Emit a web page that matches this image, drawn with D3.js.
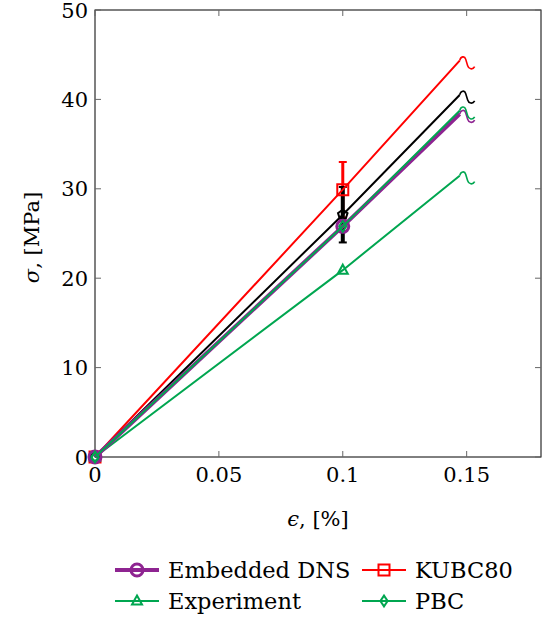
<!DOCTYPE html>
<html><head><meta charset="utf-8">
<script src="https://cdn.jsdelivr.net/npm/d3@7"></script>
<style>body{margin:0;background:#fff}svg{display:block}</style>
</head><body><svg id="c" width="544" height="619" font-family="'DejaVu Serif', 'Liberation Serif', serif"></svg>
<script>
const strain = [0, 0.1, 0.15];
const embeddedDNS = [0, 25.8, 39.1];
const kubc80 = [0, 29.9, 45.2];
const experiment = [0, 20.9, 32.1];
const pbc = [0, 25.8, 39.5];
const reference = [0, 27.1, 41.3];
const errKubc80 = [26.8, 33.0];
const errReference = [24.0, 30.2];
const xTicks = [0, 0.05, 0.1, 0.15];
const xTickLabels = ["0", "0.05", "0.1", "0.15"];
const yTicks = [0, 10, 20, 30, 40, 50];
const legendNames = ["Embedded DNS", "KUBC80", "Experiment", "PBC"];

const purple = "#8e2491", green = "#00a650", red = "#ff0000";
const FF = "'DejaVu Serif', 'Liberation Serif', serif";
const FS = 21;
const svg = d3.select("#c");
const L = 95, R = 541, T = 10, B = 457;
const x = d3.scaleLinear().domain([0, 0.18]).range([L, R]);
const y = d3.scaleLinear().domain([0, 50]).range([B, T]);

const g = svg.append("g");
g.append("rect").attr("x", L).attr("y", T).attr("width", R - L).attr("height", B - T)
  .attr("fill", "none").attr("stroke", "#000").attr("stroke-width", 1);
const tl = 6;
function txt(sel, fs) { return sel.append("text").attr("font-family", FF).attr("font-size", fs || FS).attr("fill", "#000"); }
xTicks.forEach((t, i) => {
  g.append("line").attr("x1", x(t)).attr("x2", x(t)).attr("y1", B).attr("y2", B - tl).attr("stroke", "#666");
  g.append("line").attr("x1", x(t)).attr("x2", x(t)).attr("y1", T).attr("y2", T + tl).attr("stroke", "#666");
  txt(g).attr("x", x(t)).attr("y", B + 25).attr("text-anchor", "middle").text(xTickLabels[i]);
});
yTicks.forEach(t => {
  g.append("line").attr("x1", L).attr("x2", L + tl).attr("y1", y(t)).attr("y2", y(t)).attr("stroke", "#666");
  g.append("line").attr("x1", R).attr("x2", R - tl).attr("y1", y(t)).attr("y2", y(t)).attr("stroke", "#666");
  txt(g).attr("x", L - 7).attr("y", y(t) + 7.5).attr("text-anchor", "end").text(t);
});
txt(g).attr("x", (L + R) / 2).attr("y", 526).attr("text-anchor", "middle")
  .html('<tspan font-style="italic">ϵ</tspan>, [%]');
txt(g).attr("transform", `translate(39,${(T + B) / 2 + 4}) rotate(-90)`).attr("text-anchor", "middle")
  .html('<tspan font-style="italic">σ</tspan>, [MPa]');

const series = [
  {vals: kubc80, color: red, w: 2, marker: "square"},
  {vals: reference, color: "#000", w: 2, marker: "pentagon"},
  {vals: experiment, color: green, w: 2, marker: "triangle"},
  {vals: embeddedDNS, color: purple, w: 4, marker: "circle"},
  {vals: pbc, color: green, w: 2, marker: "diamond"}
];

function markerPath(type, s) {
  if (type === "square") return `M${-s},${-s}h${2*s}v${2*s}h${-2*s}Z`;
  if (type === "triangle") return `M0,${-s*1.1}L${s},${s*0.7}L${-s},${s*0.7}Z`;
  if (type === "diamond") return `M0,${-s*1.2}L${s*0.8},0L0,${s*1.2}L${-s*0.8},0Z`;
  if (type === "pentagon") { let p = []; for (let k = 0; k < 5; k++) { const a = -Math.PI/2 + k*2*Math.PI/5; p.push([s*Math.cos(a), s*Math.sin(a)]); } return "M" + p.join("L") + "Z"; }
  return d3.symbol().type(d3.symbolCircle).size(Math.PI*s*s)();
}
const msize = {square: 5.5, pentagon: 5, triangle: 5, circle: 6, diamond: 4.5};

function errBar(v, c, w) {
  const eg = svg.append("g").attr("stroke", c).attr("stroke-width", w);
  eg.append("line").attr("x1", x(0.1)).attr("x2", x(0.1)).attr("y1", y(v[0])).attr("y2", y(v[1]));
  eg.append("line").attr("x1", x(0.1) - 4).attr("x2", x(0.1) + 4).attr("y1", y(v[0])).attr("y2", y(v[0])).attr("stroke-width", 2);
  eg.append("line").attr("x1", x(0.1) - 4).attr("x2", x(0.1) + 4).attr("y1", y(v[1])).attr("y2", y(v[1])).attr("stroke-width", 2);
}
errBar(errKubc80, red, 3);
errBar(errReference, "#000", 4);

series.forEach(s => {
  const pts = strain.map((e, i) => [x(e), y(s.vals[i])]);
  const p1 = pts[1], p2 = pts[2];
  const f = 7 / (p2[0] - p1[0]);
  const end = [p2[0] - (p2[0] - p1[0]) * f, p2[1] - (p2[1] - p1[1]) * f];
  svg.append("path").attr("d", d3.line()([pts[0], pts[1], end])).attr("fill", "none").attr("stroke", s.color).attr("stroke-width", s.w);
  svg.append("path").attr("transform", `translate(${end[0]},${end[1]})`)
    .attr("d", "M0,0 C1,-4.5 5,-5 6,-1.5 L8,5 C9,8.5 13,9.5 15,6")
    .attr("fill", "none").attr("stroke", s.color).attr("stroke-width", 1.6);
  pts.slice(0, 2).forEach(p => {
    svg.append("path").attr("transform", `translate(${p[0]},${p[1]})`).attr("d", markerPath(s.marker, msize[s.marker]))
      .attr("fill", "none").attr("stroke", s.color).attr("stroke-width", s.marker === "circle" ? 3 : 2);
  });
});

const leg = [
  {name: legendNames[0], color: purple, w: 4, marker: "circle", lx: 115, ly: 570},
  {name: legendNames[1], color: red, w: 2, marker: "square", lx: 362, ly: 570},
  {name: legendNames[2], color: green, w: 2, marker: "triangle", lx: 115, ly: 601},
  {name: legendNames[3], color: green, w: 2, marker: "diamond", lx: 362, ly: 601}
];
leg.forEach(d => {
  svg.append("line").attr("x1", d.lx).attr("x2", d.lx + 44).attr("y1", d.ly).attr("y2", d.ly).attr("stroke", d.color).attr("stroke-width", d.w);
  svg.append("path").attr("transform", `translate(${d.lx + 22},${d.ly})`).attr("d", markerPath(d.marker, msize[d.marker]))
    .attr("fill", "none").attr("stroke", d.color).attr("stroke-width", d.marker === "circle" ? 3 : 2);
  txt(svg, 22.5).attr("x", d.lx + 53).attr("y", d.ly + 7.5).text(d.name);
});
</script></body></html>
